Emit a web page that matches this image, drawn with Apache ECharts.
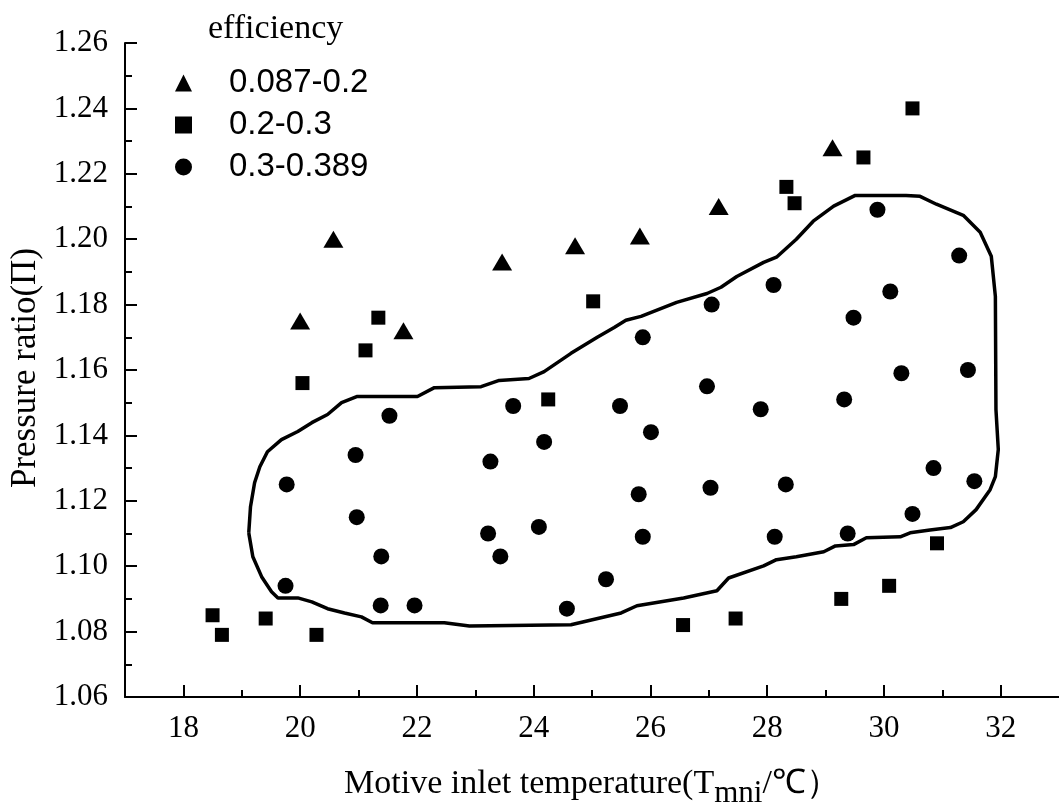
<!DOCTYPE html>
<html><head><meta charset="utf-8">
<script src="https://cdn.jsdelivr.net/npm/echarts@6/dist/echarts.min.js"></script>
<style>html,body{margin:0;padding:0;background:#fff}#c{width:1059px;height:808px}</style>
</head><body><div id="c"></div><script>
const legendTitle = 'efficiency';
const seriesNames = ['0.087-0.2', '0.2-0.3', '0.3-0.389'];
const xMajorTicks = [18, 20, 22, 24, 26, 28, 30, 32];
const xMinorTicks = [19, 21, 23, 25, 27, 29, 31];
const xName = '{m|Motive inlet temperature(T}{s|mni}{m|/℃）}';
const yName = 'Pressure ratio(Π)';

// efficiency 0.087-0.2 (triangles)
const effLow = [
  [20.00, 1.175], [20.57, 1.200], [21.77, 1.172], [23.46, 1.193],
  [24.71, 1.198], [25.82, 1.201], [27.17, 1.210], [29.12, 1.228]
];
// efficiency 0.2-0.3 (squares)
const effMid = [
  [18.50, 1.085], [18.66, 1.079], [19.41, 1.084], [20.28, 1.079],
  [20.04, 1.156], [21.12, 1.166], [21.34, 1.176], [25.02, 1.181],
  [24.25, 1.151], [26.56, 1.082], [27.46, 1.084], [29.27, 1.090],
  [30.09, 1.094], [30.91, 1.107], [28.33, 1.216], [28.47, 1.211],
  [29.65, 1.225], [30.49, 1.240]
];
// efficiency 0.3-0.389 (circles)
const effHigh = [
  [29.89, 1.209], [31.29, 1.195], [28.11, 1.186], [30.11, 1.184],
  [29.48, 1.176], [30.30, 1.159], [31.44, 1.160], [29.32, 1.151],
  [27.89, 1.148], [27.05, 1.180], [25.87, 1.170], [26.97, 1.155],
  [23.65, 1.149], [25.48, 1.149], [26.01, 1.141], [24.18, 1.138],
  [23.26, 1.132], [25.80, 1.122], [27.03, 1.124], [23.22, 1.110],
  [24.09, 1.112], [25.87, 1.109], [23.43, 1.103], [25.24, 1.096],
  [24.57, 1.087], [28.32, 1.125], [28.13, 1.109], [29.38, 1.110],
  [30.49, 1.116], [30.85, 1.130], [31.55, 1.126], [21.53, 1.146],
  [20.95, 1.134], [19.77, 1.125], [20.97, 1.115], [21.39, 1.103],
  [19.75, 1.094], [21.38, 1.088], [21.96, 1.088]
];
// closed boundary of the high-efficiency region
const boundary = [
  [19.12, 1.1102], [19.15, 1.1182], [19.22, 1.1255], [19.31, 1.1304],
  [19.44, 1.1350], [19.68, 1.1387], [19.96, 1.1412], [20.20, 1.1439],
  [20.47, 1.1464], [20.71, 1.1500], [20.98, 1.1519], [21.50, 1.1519],
  [22.01, 1.1519], [22.30, 1.1546], [23.10, 1.1549], [23.41, 1.1568],
  [23.92, 1.1574], [24.18, 1.1595], [24.64, 1.1651], [25.09, 1.1700],
  [25.38, 1.1730], [25.58, 1.1752], [25.84, 1.1764], [26.45, 1.1807],
  [26.97, 1.1834], [27.21, 1.1853], [27.48, 1.1886], [27.94, 1.1929],
  [28.16, 1.1945], [28.50, 1.2000], [28.79, 1.2055], [29.14, 1.2101],
  [29.51, 1.2134], [30.38, 1.2134], [30.62, 1.2131], [30.90, 1.2107],
  [31.36, 1.2073], [31.65, 1.2021], [31.84, 1.1948], [31.91, 1.1825],
  [31.92, 1.1479], [31.96, 1.1357], [31.91, 1.1274], [31.82, 1.1234],
  [31.58, 1.1173], [31.36, 1.1136], [31.14, 1.1118], [30.79, 1.1111],
  [30.45, 1.1102], [30.28, 1.1090], [29.70, 1.1087], [29.48, 1.1066],
  [29.17, 1.1062], [28.97, 1.1044], [28.50, 1.1029], [28.16, 1.1020],
  [27.94, 1.1001], [27.34, 1.0964], [27.14, 1.0925], [26.57, 1.0903],
  [25.77, 1.0879], [25.50, 1.0857], [24.64, 1.0821], [22.90, 1.0817],
  [22.47, 1.0827], [21.24, 1.0827], [21.05, 1.0845], [20.76, 1.0857],
  [20.47, 1.0870], [20.20, 1.0891], [19.96, 1.0903], [19.62, 1.0903],
  [19.51, 1.0922], [19.34, 1.0968], [19.19, 1.1029]
];

const serif = '"Liberation Serif", "Times New Roman", serif';
const sans = '"Liberation Sans", Arial, sans-serif';
const chart = echarts.init(document.getElementById('c'), null, {renderer: 'canvas'});
chart.setOption({
  animation: false,
  backgroundColor: '#fff',
  title: {
    text: legendTitle, left: 203, top: 7,
    textStyle: {fontFamily: serif, fontSize: 34, fontWeight: 'normal', color: '#000'}
  },
  legend: {
    data: seriesNames,
    orient: 'vertical', left: 170, top: 60,
    itemWidth: 17, itemHeight: 17, itemGap: 6,
    padding: 5,
    itemStyle: {opacity: 1},
    textStyle: {fontFamily: sans, fontSize: 33, lineHeight: 36, color: '#000', padding: [0, 0, 0, 32]}
  },
  grid: {left: 125, right: 0, top: 43, bottom: 111, containLabel: false, outerBoundsMode: 'none'},
  xAxis: [{
    type: 'value', min: 17, max: 33,
    name: xName, nameLocation: 'middle', nameGap: 70,
    nameTextStyle: {
      rich: {
        m: {fontFamily: serif, fontSize: 34, color: '#000', verticalAlign: 'top', lineHeight: 36},
        s: {fontFamily: serif, fontSize: 31, color: '#000', verticalAlign: 'top', lineHeight: 32, padding: [11, 0, 0, 0]}
      }
    },
    axisLine: {show: true, lineStyle: {color: '#000', width: 2}},
    axisTick: {show: true, inside: true, length: 12, lineStyle: {color: '#000', width: 2}, customValues: xMajorTicks},
    axisLabel: {show: true, customValues: xMajorTicks, margin: 16, fontFamily: serif, fontSize: 31, color: '#000'},
    splitLine: {show: false}
  }, {
    type: 'value', min: 17, max: 33, position: 'bottom',
    axisLine: {show: false},
    axisTick: {show: true, inside: true, length: 7, lineStyle: {color: '#000', width: 2}, customValues: xMinorTicks},
    axisLabel: {show: false},
    splitLine: {show: false}
  }],
  yAxis: {
    type: 'value', min: 1.06, max: 1.26, interval: 0.02,
    name: yName, nameLocation: 'middle', nameGap: 80,
    nameTextStyle: {fontFamily: serif, fontSize: 35, color: '#000', padding: [0, 0, 0, 4]},
    axisLine: {show: true, lineStyle: {color: '#000', width: 2}},
    axisTick: {show: true, inside: true, length: 12, lineStyle: {color: '#000', width: 2}},
    minorTick: {show: true, splitNumber: 2, length: 7, lineStyle: {color: '#000', width: 2}},
    axisLabel: {margin: 17, fontFamily: serif, fontSize: 31, color: '#000', formatter: v => v.toFixed(2)},
    splitLine: {show: false}
  },
  series: [
    {
      name: 'boundary', type: 'line', data: boundary.concat([boundary[0]]),
      showSymbol: false, symbol: 'none', smooth: false,
      lineStyle: {color: '#000', width: 3.5}, silent: true, z: 1
    },
    {
      name: seriesNames[0], type: 'scatter', data: effLow,
      symbol: 'triangle', symbolSize: [20, 17], itemStyle: {color: '#000', opacity: 1}, z: 3
    },
    {
      name: seriesNames[1], type: 'scatter', data: effMid,
      symbol: 'rect', symbolSize: 14, itemStyle: {color: '#000', opacity: 1}, z: 3
    },
    {
      name: seriesNames[2], type: 'scatter', data: effHigh,
      symbol: 'circle', symbolSize: 16, itemStyle: {color: '#000', opacity: 1}, z: 3
    }
  ]
});
</script></body></html>
